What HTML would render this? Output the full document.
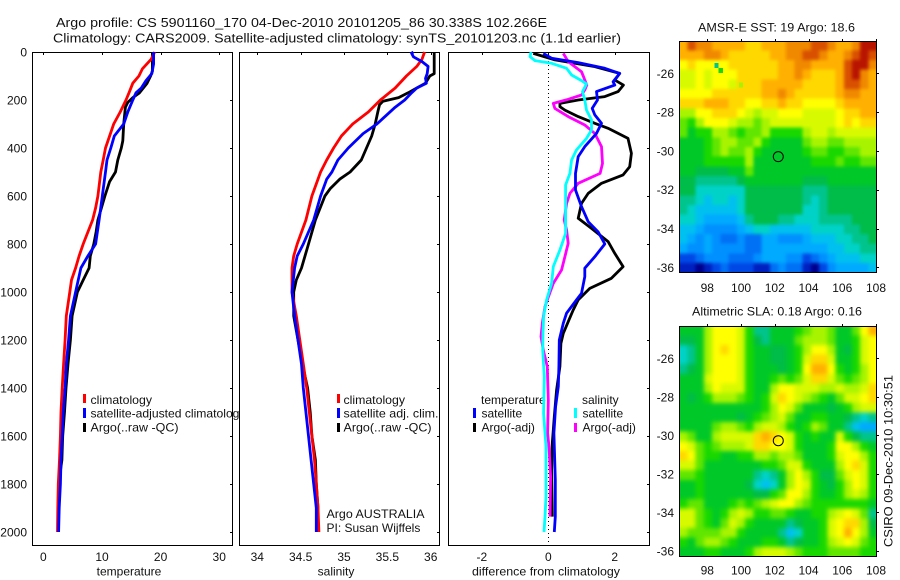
<!DOCTYPE html>
<html lang="en">
<head>
<meta charset="utf-8">
<title>Argo profile</title>
<style>
html,body{margin:0;padding:0;background:#fff;}
svg{display:block;font-family:"Liberation Sans",sans-serif;font-size:12px;fill:#000;}
text{fill:#111;}
</style>
</head>
<body>
<svg id="chart" xmlns="http://www.w3.org/2000/svg" width="900" height="580" viewBox="0 0 900 580">
<defs>
<clipPath id="legendClip"><rect x="0" y="380" width="239" height="60"/></clipPath>
<clipPath id="sstClip"><rect x="679" y="41" width="198" height="232"/></clipPath>
<clipPath id="slaClip"><rect x="679" y="326" width="198" height="231"/></clipPath>
<filter id="sstSoft" filterUnits="userSpaceOnUse" x="660" y="20" width="240" height="275" color-interpolation-filters="sRGB">
<feGaussianBlur stdDeviation="1.6"/>
<feComponentTransfer><feFuncA type="linear" slope="100"/></feComponentTransfer>
</filter>
<filter id="slaSoft" filterUnits="userSpaceOnUse" x="660" y="305" width="240" height="275" color-interpolation-filters="sRGB">
<feGaussianBlur stdDeviation="2.2"/>
<feComponentTransfer><feFuncA type="linear" slope="100"/></feComponentTransfer>
</filter>
</defs>
<rect x="0" y="0" width="900" height="580" fill="#fff"/>
<text x="56" y="27" font-size="13.3" textLength="491" lengthAdjust="spacingAndGlyphs">Argo profile: CS 5901160_170 04-Dec-2010 20101205_86 30.338S 102.266E</text>
<text x="53" y="42.5" font-size="13.3" textLength="568" lengthAdjust="spacingAndGlyphs">Climatology: CARS2009. Satellite-adjusted climatology: synTS_20101203.nc (1.1d earlier)</text>
<text x="698" y="31.5" font-size="12" textLength="157" lengthAdjust="spacingAndGlyphs">AMSR-E SST: 19 Argo: 18.6</text>
<text x="692" y="315.5" font-size="12" textLength="170" lengthAdjust="spacingAndGlyphs">Altimetric SLA: 0.18 Argo: 0.16</text>
<text transform="translate(892.5,547) rotate(-90)" font-size="12" textLength="172" lengthAdjust="spacingAndGlyphs">CSIRO 09-Dec-2010 10:30:51</text>

<text x="90.5" y="404" textLength="61.5" lengthAdjust="spacingAndGlyphs">climatology</text>
<text x="90.5" y="417.5" clip-path="url(#legendClip)" textLength="155" lengthAdjust="spacingAndGlyphs">satellite-adjusted climatology</text>
<text x="90.5" y="431.5" textLength="88" lengthAdjust="spacingAndGlyphs">Argo(..raw -QC)</text>
<rect x="83" y="394" width="3" height="9" fill="#f00"/>
<rect x="83" y="408" width="3" height="10" fill="#00f"/>
<rect x="83" y="423" width="3" height="9" fill="#000"/>

<text x="343.5" y="404" textLength="61.5" lengthAdjust="spacingAndGlyphs">climatology</text>
<text x="343.5" y="417.5" textLength="95" lengthAdjust="spacingAndGlyphs">satellite adj. clim.</text>
<text x="343.5" y="431.5" textLength="88" lengthAdjust="spacingAndGlyphs">Argo(..raw -QC)</text>
<rect x="337" y="394" width="3" height="9" fill="#f00"/>
<rect x="337" y="408" width="3" height="10" fill="#00f"/>
<rect x="337" y="423" width="3" height="9" fill="#000"/>
<text x="326.5" y="518" textLength="98" lengthAdjust="spacingAndGlyphs">Argo AUSTRALIA</text>
<text x="326.5" y="532">PI: Susan Wijffels</text>

<text x="481" y="404">temperature</text>
<text x="481.5" y="417.5">satellite</text>
<text x="481.5" y="431.5">Argo(-adj)</text>
<rect x="473" y="408" width="3" height="10" fill="#00f"/>
<rect x="473" y="423" width="3" height="9" fill="#000"/>
<text x="582" y="404">salinity</text>
<text x="582.5" y="417.5">satellite</text>
<text x="582.5" y="431.5">Argo(-adj)</text>
<rect x="574" y="408" width="3" height="10" fill="#0ff"/>
<rect x="574" y="423" width="3" height="9" fill="#f0f"/>

<text x="129" y="575.5" text-anchor="middle">temperature</text>
<text x="336" y="575.5" text-anchor="middle">salinity</text>
<text x="546" y="575.5" text-anchor="middle" textLength="148" lengthAdjust="spacingAndGlyphs">difference from climatology</text>
</svg>
<script>
// ---------- axis tick labels ----------
const depthTicks = [0,200,400,600,800,1000,1200,1400,1600,1800,2000];
const temperatureTicks = [0,10,20,30];
const salinityTicks = [34,34.5,35,35.5,36];
const differenceTicks = [-2,0,2];
const lonTicks = [98,100,102,104,106,108];
const latTicks = [-26,-28,-30,-32,-34,-36];

// ---------- temperature profiles ----------
const climTempDepth = [0,30,70,100,130,170,200,250,300,350,400,450,500,600,650,700,750,800,850,900,950,1000,1100,1200,1300,1400,1500,1600,1700,1800,1900,2000];
const climTemp = [19.0,18.4,16.9,16.3,15.25,14.6,14.1,13.1,12.0,11.3,10.6,10.2,9.8,9.3,8.9,8.4,7.6,6.8,6.1,5.5,4.8,4.5,3.9,3.7,3.45,3.2,3.0,2.9,2.75,2.55,2.45,2.4];
const satTempDepth = [0,50,90,120,150,170,200,250,300,350,400,450,500,600,700,800,850,900,1000,1100,1200,1300,1400,1500,1600,1700,1800,1900,2000];
const satTemp = [18.8,18.8,18.5,17.5,16.7,15.8,15.25,14.4,13.7,12.1,11.5,10.85,10.6,10.05,9.5,8.9,7.6,6.4,5.5,4.6,4.3,3.9,3.7,3.4,3.2,3.0,2.9,2.7,2.6];
const argoTempDepth = [0,80,100,130,170,190,210,230,300,370,400,450,500,540,600,650,700,750,800,850,900,950,1000,1100,1200,1300,1400,1500,1600,1700,1800,1900,2000];
const argoTemp = [18.6,18.6,18.3,17.7,16.4,15.25,14.4,14.0,13.7,13.55,13.3,12.7,12.3,11.3,10.5,9.9,9.3,9.0,8.6,8.0,7.8,6.8,5.8,4.9,4.6,4.2,3.85,3.6,3.3,3.15,2.6,2.55,2.5];

// ---------- salinity profiles ----------
const climSalDepth = [0,30,60,100,150,200,250,300,350,400,450,500,600,700,800,850,900,1000,1100,1200,1300,1400,1500,1600,1700,1800,1900,2000];
const climSal = [35.93,35.90,35.84,35.72,35.59,35.42,35.28,35.10,34.97,34.88,34.80,34.73,34.63,34.56,34.46,34.42,34.40,34.40,34.45,34.49,34.53,34.57,34.60,34.63,34.66,34.68,34.70,34.71];
const satSalDepth = [0,5,20,40,60,90,110,130,150,170,200,230,270,300,340,400,450,500,530,600,700,800,850,900,1000,1100,1200,1300,1400,1500,1600,1700,1800,1900,2000];
const satSal = [35.8,35.78,35.8,35.9,35.97,35.96,35.94,35.95,35.84,35.78,35.7,35.59,35.47,35.38,35.22,35.05,34.93,34.86,34.8,34.73,34.65,34.53,34.46,34.43,34.40,34.43,34.47,34.51,34.53,34.56,34.59,34.62,34.65,34.68,34.68];
const argoSalDepth = [0,90,100,130,150,170,190,205,220,250,300,350,400,450,500,530,570,600,700,800,900,950,1000,1100,1200,1300,1400,1500,1600,1700,1800,1900,2000];
const argoSal = [36.04,36.04,35.99,35.94,35.84,35.74,35.63,35.45,35.41,35.39,35.36,35.32,35.26,35.2,35.07,34.95,34.84,34.78,34.67,34.59,34.51,34.45,34.42,34.42,34.47,34.52,34.58,34.61,34.63,34.67,34.68,34.7,34.7];

// ---------- difference profiles ----------
const diffArgoTempDepth = [6,33,61,89,117,138,165,186,200,214,228,242,269,297,318,360,422,478,512,547,589,631,693,735,790,839,894,943,985,1033,1075,1117,1172,1214,1311,1408,1519,1630,1742,1936];
const diffArgoTemp = [-0.45,0.2,1.4,2.15,2.0,2.26,2.1,1.7,0.9,0.35,0.35,0.5,0.9,1.4,1.8,2.4,2.5,2.45,2.25,1.6,1.2,1.0,0.9,1.3,1.8,2.0,2.25,1.9,1.25,0.9,0.75,0.62,0.45,0.38,0.35,0.25,0.18,0.12,0.1,0.12];
const diffSatTempDepth = [6,26,44,68,89,124,138,165,200,235,262,297,339,394,436,506,575,644,707,749,800,853,901,936,1006,1033,1088,1130,1200,1311,1394,1477,1588,1783,1936,2000];
const diffSatTemp = [-0.15,0.1,0.9,1.7,2.15,1.95,2.0,1.45,1.48,1.32,1.4,1.6,1.45,1.1,0.9,0.82,0.82,1.0,1.2,1.5,1.7,1.4,1.1,1.1,1.0,0.85,0.55,0.45,0.33,0.32,0.3,0.22,0.17,0.21,0.21,0.18];
const diffArgoSalDepth = [6,40,82,103,138,158,179,197,214,235,269,304,339,394,464,506,547,589,631,700,742,797,853,908,964,1033,1061,1130,1186,1242,1311,1450,1588,1644,1769,1936];
const diffArgoSal = [0.45,0.6,1.0,1.06,1.16,1.1,1.0,0.6,0.15,0.2,0.6,1.1,1.4,1.6,1.63,1.56,0.9,0.65,0.55,0.48,0.55,0.6,0.5,0.4,0.15,-0.03,-0.1,-0.18,-0.22,-0.15,-0.03,0,-0.02,0.02,0.07,0.05];
const diffSatSalDepth = [0,19,36,47,68,96,119,133,165,200,242,283,325,360,408,450,506,554,644,756,825,894,964,1033,1068,1103,1172,1242,1353,1506,1644,1853,1936,2000];
const diffSatSal = [-0.52,-0.55,-0.4,0.1,0.55,0.7,1.0,1.15,1.03,1.1,1.15,1.3,1.3,1.15,0.85,0.7,0.65,0.52,0.52,0.52,0.35,0.15,0.1,-0.05,-0.1,-0.14,-0.16,-0.17,-0.12,-0.14,-0.07,-0.07,-0.1,-0.13];

// ---------- map grids (colour-scale levels 0..20), north to south, west to east ----------
const sstGrid = [
[17,19,18,18,17,17,17,17,16,16,17,17,17,18,18,18,19,19,18,17,17,18,20,20],
[17,17,17,18,18,17,16,16,16,16,16,17,17,18,18,19,19,18,17,17,18,19,20,19],
[15,16,15,15,15,15,16,16,16,16,16,16,17,17,18,18,17,17,17,17,19,20,20,18],
[14,14,15,14,15,15,15,16,16,16,16,16,17,17,18,17,16,16,16,17,19,20,18,17],
[14,14,15,14,15,15,14,16,16,16,17,17,17,17,17,16,16,16,16,17,19,19,18,17],
[15,15,15,15,16,16,16,16,16,16,17,17,18,17,16,16,16,16,16,17,18,18,17,17],
[16,16,16,17,17,17,16,16,15,15,16,16,17,16,16,15,15,15,15,16,17,17,17,17],
[13,13,15,15,16,16,16,15,14,13,14,14,15,15,15,14,14,14,14,15,16,16,17,17],
[12,11,13,15,15,15,14,13,13,12,13,14,14,14,14,14,14,14,14,15,16,15,16,16],
[12,10,11,11,13,13,12,11,12,12,13,11,11,11,11,13,14,14,13,14,14,14,14,14],
[10,10,10,11,12,13,13,12,12,13,11,10,10,10,10,12,13,13,12,12,13,13,13,13],
[10,10,10,11,12,13,12,12,13,11,10,10,10,10,10,11,12,12,11,11,12,12,13,13],
[10,10,10,11,11,11,11,11,13,10,10,10,10,10,10,10,11,11,11,12,11,11,12,12],
[10,10,9,9,9,9,10,10,12,10,10,10,10,10,10,10,10,10,10,10,10,10,10,10],
[9,9,8,8,8,8,8,9,10,10,10,10,10,10,10,9,9,9,10,10,10,10,10,10],
[9,9,7,7,7,7,7,7,9,9,9,9,9,9,9,8,8,8,9,9,9,9,9,9],
[8,8,7,6,7,7,6,7,9,9,9,9,9,9,9,8,7,8,9,9,9,9,9,9],
[8,7,6,6,6,6,6,7,9,9,9,9,9,9,9,7,7,8,9,9,9,9,9,9],
[7,7,6,5,5,5,5,6,8,9,9,9,8,8,7,7,7,8,8,8,8,9,9,9],
[6,6,5,4,4,4,4,5,6,7,7,6,6,6,6,6,7,7,7,7,8,8,9,9],
[6,5,4,5,4,3,3,4,3,3,5,5,4,4,4,5,6,6,6,7,7,8,8,9],
[5,4,4,5,4,4,4,4,3,3,5,5,5,5,5,5,5,5,6,6,7,7,8,8],
[2,2,3,4,4,4,3,3,3,4,5,5,5,4,4,2,3,4,5,6,6,6,7,7],
[1,1,0,1,2,3,2,2,2,1,1,3,4,3,3,1,0,2,4,5,5,5,5,6]
];
const slaGrid = [
[10,10,10,13,15,15,15,14,11,8,8,10,10,10,11,12,13,13,12,10,10,12,15,17],
[9,9,10,13,15,15,15,14,11,9,8,10,10,10,12,13,13,13,12,10,10,11,14,15],
[7,8,10,13,15,16,15,14,11,10,10,9,9,10,11,13,15,15,13,10,9,11,14,15],
[7,8,10,13,15,15,15,14,11,10,10,9,9,10,11,14,16,16,14,10,10,11,14,15],
[8,9,10,13,15,15,15,14,11,10,10,10,9,10,11,15,17,17,15,11,10,11,13,15],
[10,10,10,14,15,15,15,14,11,10,10,11,12,11,12,14,16,16,14,12,11,12,13,15],
[10,10,10,13,15,14,14,14,11,10,10,13,15,15,14,14,14,13,13,14,13,13,14,16],
[10,9,10,11,13,13,13,12,11,10,11,14,16,15,14,13,12,11,10,12,14,14,15,16],
[10,10,10,10,10,10,10,10,10,10,11,13,15,14,12,10,10,10,9,10,11,13,14,14],
[10,10,10,10,10,10,10,9,10,11,12,13,14,12,10,10,11,11,10,10,9,8,7,8],
[10,10,10,10,12,13,13,12,11,13,14,14,13,11,10,11,13,12,10,10,8,6,5,5],
[13,12,10,10,13,14,14,14,14,16,17,16,15,14,11,10,11,10,10,14,11,9,8,8],
[15,14,12,11,12,13,13,13,14,16,16,15,15,14,11,10,10,10,11,15,15,13,11,10],
[16,15,12,11,11,10,10,11,11,13,13,12,13,13,12,10,10,10,11,14,15,15,13,11],
[14,14,12,10,10,10,10,10,10,10,11,11,12,14,14,11,10,10,10,13,15,16,14,11],
[12,12,11,10,10,10,10,10,10,8,7,8,10,13,15,13,11,9,9,12,14,15,14,11],
[10,10,11,10,10,10,10,10,9,7,6,7,10,13,15,14,11,10,9,11,13,15,14,11],
[10,10,11,10,10,10,10,10,10,9,9,11,12,15,15,13,11,10,10,11,13,14,13,11],
[11,12,12,10,10,10,11,12,11,12,13,14,15,15,13,12,11,11,11,11,11,11,11,10],
[14,14,12,11,10,11,13,14,13,11,11,12,12,11,10,10,11,11,13,14,15,14,12,8],
[14,14,12,11,10,12,14,13,11,10,10,10,10,8,9,10,10,11,14,15,16,16,13,9],
[13,12,12,12,12,13,13,11,10,10,10,10,8,6,7,10,10,11,14,15,17,15,13,10],
[11,10,12,13,13,12,11,10,10,10,11,11,10,8,9,10,10,11,13,14,15,14,12,11],
[10,10,10,11,11,10,10,10,11,13,14,14,14,13,12,11,11,11,12,12,12,12,11,11]
];
// isolated SST pixels: longitudes, latitudes and levels
const sstSpotLon = [98.55,98.8,100.0];
const sstSpotLat = [-25.6,-25.85,-26.6];
const sstSpotLevel = [8,11,13];
const floatLon = 102.266;
const floatLat = -30.338;

const palette = ['#00008c','#0020c0','#0048e6','#0070f5','#0090ff','#00aaff','#00c0f0','#00d2c8','#00c48c','#00bc48','#00c828','#18d800','#60e600','#a8f400','#d8fa00','#ffff00','#ffd800','#ffb000','#f08800','#d85000','#b81400'];

// ---------- scales ----------
const yTop = 52, yDepth2000 = 532, yBottom = 545;
function depthY(d){return yTop+(yDepth2000-yTop)*d/2000;}
function tempX(v){return 43.4+(219.2-43.4)*v/30;}
function salX(v){return 257.3+(430.7-257.3)*(v-34)/2;}
function diffX(v){return 548.3+(614.6-481.7)*v/4;}

const svg = document.getElementById('chart');
const NS = 'http://www.w3.org/2000/svg';
function mk(tag, attrs, parent){
  const el = document.createElementNS(NS, tag);
  for (const k in attrs) el.setAttribute(k, attrs[k]);
  (parent||svg).appendChild(el);
  return el;
}

function drawFrame(name, x0, x1, y0, y1, ticksX, xFn, ticksY, yFn, labelLeft){
  const g = mk('g', {});
  
  
  const box = mk('rect', {x:x0+.5, y:y0+.5, width:x1-x0-1, height:y1-y0-1, fill:'none', stroke:'#000', 'stroke-width':1, 'shape-rendering':'crispEdges'}, g);
  
  
  ticksX.forEach(function(t){
    const px = Math.round(xFn(t));
    const tk = mk('line', {x1:px+.5, x2:px+.5, y1:y0, y2:y0+3, stroke:'#000', 'shape-rendering':'crispEdges'}, g);
    
    
    const lb = mk('text', {x:xFn(t), y:y1+15, 'text-anchor':'middle'}, g);
    
    
    lb.textContent = String(t);
  });
  ticksY.forEach(function(t){
    const py = Math.round(yFn(t));
    const tk = mk('line', {x1:x1-3, x2:x1, y1:py+.5, y2:py+.5, stroke:'#000', 'shape-rendering':'crispEdges'}, g);
    
    
    if (labelLeft){
      const lb = mk('text', {x:27, y:yFn(t)+4.5, 'text-anchor':'end'}, g);
      
      
      lb.textContent = String(t);
    }
  });
}

function drawProfile(name, depths, values, xFn, color, width){
  const pts = depths.map(function(d,i){return xFn(values[i]).toFixed(1)+','+depthY(d).toFixed(1);}).join(' ');
  const line = mk('polyline', {points:pts, fill:'none', stroke:color, 'stroke-width':width, 'stroke-linejoin':'round'});
  
  
}

// Panels
drawFrame('temperature-panel', 32, 233, 52, 546, temperatureTicks, tempX, depthTicks, depthY, true);
drawFrame('salinity-panel', 239, 440, 52, 546, salinityTicks, salX, depthTicks, depthY, false);
drawFrame('difference-panel', 448, 650, 52, 546, differenceTicks, diffX, depthTicks, depthY, false);

const zeroLine = mk('line', {x1:548.5, x2:548.5, y1:53, y2:545, stroke:'#000', 'stroke-dasharray':'1 3', 'shape-rendering':'crispEdges'});



drawProfile('temperature-argo-line', argoTempDepth, argoTemp, tempX, '#000', 2.8);
drawProfile('temperature-climatology-line', climTempDepth, climTemp, tempX, '#f00', 2.8);
drawProfile('temperature-satellite-line', satTempDepth, satTemp, tempX, '#00f', 2.8);

drawProfile('salinity-argo-line', argoSalDepth, argoSal, salX, '#000', 2.8);
drawProfile('salinity-climatology-line', climSalDepth, climSal, salX, '#f00', 2.8);
drawProfile('salinity-satellite-line', satSalDepth, satSal, salX, '#00f', 2.8);

drawProfile('difference-temperature-argo-line', diffArgoTempDepth, diffArgoTemp, diffX, '#000', 2.8);
drawProfile('difference-salinity-argo-line', diffArgoSalDepth, diffArgoSal, diffX, '#f0f', 2.8);
drawProfile('difference-temperature-satellite-line', diffSatTempDepth, diffSatTemp, diffX, '#00f', 2.8);
drawProfile('difference-salinity-satellite-line', diffSatSalDepth, diffSatSal, diffX, '#0ff', 2.8);

function drawMap(name, grid, clipId, filterId, lonFn, latFn, lon0, lon1, lat0, lat1){
  const wrap = mk('g', {'clip-path':'url(#'+clipId+')'});
  
  
  const g = mk('g', {filter:'url(#'+filterId+')', 'shape-rendering':'crispEdges'}, wrap);
  
  
  const rows = grid.length, cols = grid[0].length;
  const dLon = (lon1-lon0)/cols, dLat = (lat0-lat1)/rows;
  grid.forEach(function(row, r){
    row.forEach(function(level, c){
      const xa = lonFn(lon0+c*dLon), xb = lonFn(lon0+(c+1)*dLon);
      const ya = latFn(lat0-r*dLat), yb = latFn(lat0-(r+1)*dLat);
      const cell = mk('rect', {x:xa.toFixed(2), y:ya.toFixed(2), width:(xb-xa+.5).toFixed(2), height:(yb-ya+.5).toFixed(2), fill:palette[level]}, g);
      
      
    });
  });
  return wrap;
}

function drawMapFrame(name, px0, px1, py0, py1, lonFn, latFn, labelY){
  const g = mk('g', {});
  
  
  const box = mk('rect', {x:px0+.5, y:py0+.5, width:px1-px0-1, height:py1-py0-1, fill:'none', stroke:'#000', 'shape-rendering':'crispEdges'}, g);
  
  
  lonTicks.forEach(function(t){
    const x = Math.round(lonFn(t));
    const tk = mk('line', {x1:x+.5, x2:x+.5, y1:py0-2, y2:py0, stroke:'#000', 'shape-rendering':'crispEdges'}, g);
    
    
    const lb = mk('text', {x:lonFn(t), y:labelY, 'text-anchor':'middle'}, g);
    
    
    lb.textContent = String(t);
  });
  latTicks.forEach(function(t){
    const y = Math.round(latFn(t));
    const tk = mk('line', {x1:px1, x2:px1+2, y1:y+.5, y2:y+.5, stroke:'#000', 'shape-rendering':'crispEdges'}, g);
    
    
    const lb = mk('text', {x:674, y:latFn(t)+4.5, 'text-anchor':'end'}, g);
    
    
    lb.textContent = String(t);
  });
}

function sstLonX(v){return 707.3+(v-98)*16.87;}
function sstLatY(v){return 73.3+(-26-v)*19.4;}
function slaLonX(v){return 707.3+(v-98)*16.87;}
function slaLatY(v){return 358.3+(-26-v)*19.27;}

const sstGroup = drawMap('sst-map', sstGrid, 'sstClip', 'sstSoft', sstLonX, sstLatY, 96.34, 108.04, -24.32, -36.28);
sstSpotLon.forEach(function(lon, i){
  const spot = mk('rect', {x:sstLonX(lon)-2.1, y:sstLatY(sstSpotLat[i])-2.4, width:4.2, height:4.8, fill:palette[sstSpotLevel[i]], 'shape-rendering':'crispEdges'}, sstGroup);
  
  
});
drawMap('sla-map', slaGrid, 'slaClip', 'slaSoft', slaLonX, slaLatY, 96.34, 108.04, -24.31, -36.3);

drawMapFrame('sst-map', 679, 877, 41, 273, sstLonX, sstLatY, 292);
drawMapFrame('sla-map', 679, 877, 326, 557, slaLonX, slaLatY, 574.5);

const sstMarker = mk('circle', {cx:sstLonX(floatLon)-1, cy:sstLatY(floatLat)-.8, r:5, fill:'none', stroke:'#000', 'stroke-width':1});


const slaMarker = mk('circle', {cx:slaLonX(floatLon)-1, cy:slaLatY(floatLat)-1.2, r:5, fill:'none', stroke:'#000', 'stroke-width':1});


</script>
</body>
</html>
